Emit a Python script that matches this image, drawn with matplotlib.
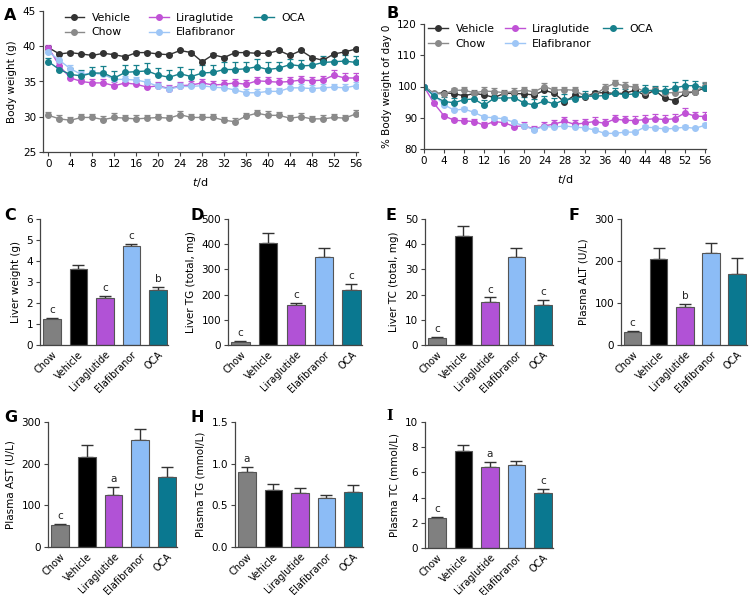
import numpy as np
import matplotlib
matplotlib.use("Agg")
import matplotlib.pyplot as plt
from matplotlib.lines import Line2D

plt.rcParams["font.family"] = ["DejaVu Sans"]
plt.rcParams["font.size"] = 7.5

W, H = 752, 595

days = [0, 2, 4, 6, 8, 10, 12, 14, 16, 18, 20, 22, 24, 26, 28,
        30, 32, 34, 36, 38, 40, 42, 44, 46, 48, 50, 52, 54, 56]
series = ["Vehicle", "Chow", "Liraglutide", "Elafibranor", "OCA"]

# panel A: body weight (g)
bw_vehicle = [39.8, 38.9, 39.1, 38.9, 38.7, 39.0, 38.8, 38.5, 39.1, 39.1, 38.9, 38.8, 39.4, 39.1, 37.8,
              38.8, 38.4, 39.1, 39.1, 39.0, 39.0, 39.4, 38.7, 39.4, 38.4, 38.0, 38.9, 39.2, 39.6]
bw_chow = [30.2, 29.7, 29.5, 29.9, 29.9, 29.6, 29.9, 29.8, 29.7, 29.8, 29.9, 29.8, 30.3, 29.9, 29.9,
           29.9, 29.5, 29.3, 30.1, 30.5, 30.2, 30.2, 29.8, 30.0, 29.7, 29.7, 29.9, 29.8, 30.4]
bw_lira = [39.8, 37.2, 35.5, 35.0, 34.8, 34.8, 34.4, 34.8, 34.6, 34.2, 34.4, 34.0, 34.4, 34.5, 34.8,
           34.5, 34.6, 34.8, 34.6, 35.1, 35.0, 34.9, 35.0, 35.2, 35.1, 35.2, 35.9, 35.5, 35.5]
bw_elaf = [39.2, 38.0, 36.8, 36.0, 36.2, 36.0, 35.3, 35.3, 35.2, 34.9, 34.3, 33.9, 34.3, 34.3, 34.4,
           34.2, 34.1, 33.8, 33.4, 33.4, 33.6, 33.6, 34.1, 34.1, 34.0, 34.1, 34.2, 34.1, 34.4]
bw_oca = [37.8, 36.7, 36.0, 35.8, 36.2, 36.2, 35.5, 36.3, 36.4, 36.5, 35.9, 35.6, 36.1, 35.7, 36.2,
          36.3, 36.7, 36.7, 36.8, 37.1, 36.7, 36.9, 37.4, 37.2, 37.3, 37.7, 37.8, 37.9, 37.7]

bw_err_vehicle = [0.2, 0.2, 0.2, 0.2, 0.2, 0.2, 0.2, 0.2, 0.2, 0.2, 0.2, 0.2, 0.2, 0.2, 0.3,
                  0.2, 0.2, 0.2, 0.2, 0.2, 0.2, 0.2, 0.2, 0.2, 0.2, 0.3, 0.2, 0.2, 0.2]
bw_err_chow = [0.5, 0.5, 0.4, 0.5, 0.5, 0.5, 0.6, 0.5, 0.5, 0.5, 0.5, 0.5, 0.5, 0.5, 0.5,
               0.5, 0.5, 0.5, 0.5, 0.5, 0.6, 0.5, 0.5, 0.5, 0.4, 0.5, 0.5, 0.5, 0.5]
bw_err_lira = [0.4, 0.4, 0.4, 0.4, 0.5, 0.5, 0.5, 0.5, 0.5, 0.5, 0.5, 0.5, 0.5, 0.5, 0.5,
               0.6, 0.6, 0.6, 0.6, 0.6, 0.6, 0.6, 0.6, 0.6, 0.6, 0.6, 0.7, 0.7, 0.7]
bw_err_elaf = [0.6, 0.6, 0.6, 0.5, 0.5, 0.5, 0.5, 0.5, 0.5, 0.5, 0.5, 0.5, 0.5, 0.5, 0.5,
               0.5, 0.5, 0.5, 0.5, 0.5, 0.5, 0.5, 0.5, 0.5, 0.5, 0.5, 0.5, 0.5, 0.5]
bw_err_oca = [0.5, 0.6, 0.9, 0.9, 0.9, 1.0, 1.0, 1.0, 1.0, 1.1, 1.0, 1.0, 0.9, 1.1, 1.1,
              1.0, 1.0, 1.0, 1.0, 1.1, 1.0, 0.9, 0.8, 0.8, 0.9, 0.9, 0.8, 0.8, 0.9]

# panel B: % body weight of day 0
pct_vehicle = [100, 97.7, 98.0, 97.7, 97.0, 97.8, 97.3, 96.5, 97.8, 97.8, 97.6, 97.3, 98.8, 97.8, 95.0,
               97.2, 96.5, 98.0, 98.0, 97.8, 97.8, 98.8, 97.2, 98.8, 96.2, 95.5, 97.8, 98.3, 99.6]
pct_chow = [100, 97.8, 97.6, 98.8, 98.8, 98.0, 98.5, 98.4, 98.0, 98.4, 98.8, 98.3, 100.0, 98.8, 99.0,
            98.8, 97.0, 97.2, 99.6, 101.0, 100.2, 99.8, 98.4, 99.0, 98.0, 98.0, 98.3, 98.3, 100.2]
pct_lira = [100, 94.6, 90.6, 89.2, 89.0, 88.8, 87.6, 88.8, 88.4, 87.2, 87.4, 86.4, 87.4, 88.0, 88.9,
            87.9, 88.3, 88.8, 88.2, 89.6, 89.2, 89.1, 89.4, 89.7, 89.4, 89.7, 91.6, 90.5, 90.4]
pct_elaf = [100, 97.2, 94.2, 92.4, 92.8, 91.7, 90.2, 90.0, 89.6, 88.5, 87.3, 86.2, 87.2, 87.0, 87.4,
            87.0, 86.8, 86.1, 85.0, 85.0, 85.4, 85.4, 87.0, 86.8, 86.4, 86.6, 87.0, 86.6, 87.6]
pct_oca = [100, 96.9, 95.2, 94.8, 95.8, 96.0, 94.0, 96.3, 96.3, 96.4, 94.7, 94.1, 95.4, 94.4, 95.8,
           96.1, 96.9, 96.9, 97.1, 97.8, 97.4, 97.6, 98.8, 98.6, 98.6, 99.6, 100.2, 100.3, 99.4]

pct_err_vehicle = [0, 0.4, 0.4, 0.4, 0.5, 0.4, 0.5, 0.5, 0.5, 0.5, 0.5, 0.5, 0.6, 0.5, 0.7,
                   0.5, 0.5, 0.5, 0.5, 0.5, 0.5, 0.5, 0.5, 0.5, 0.5, 0.6, 0.5, 0.5, 0.5]
pct_err_chow = [0, 0.6, 0.8, 0.8, 0.9, 0.8, 1.5, 1.0, 0.9, 1.0, 1.0, 1.0, 1.2, 0.9, 1.0,
                1.0, 0.9, 1.0, 1.1, 1.2, 1.1, 1.0, 1.0, 1.0, 1.0, 1.0, 1.0, 1.0, 1.2]
pct_err_lira = [0, 0.6, 0.6, 0.8, 0.9, 0.9, 0.9, 1.0, 1.0, 1.0, 1.1, 1.1, 1.1, 1.2, 1.3,
                1.3, 1.3, 1.3, 1.3, 1.4, 1.4, 1.4, 1.4, 1.4, 1.4, 1.4, 1.5, 1.5, 1.4]
pct_err_elaf = [0, 0.5, 0.6, 0.6, 0.6, 0.6, 0.6, 0.6, 0.6, 0.6, 0.6, 0.6, 0.6, 0.6, 0.6,
                0.6, 0.6, 0.6, 0.6, 0.6, 0.6, 0.6, 0.6, 0.6, 0.6, 0.6, 0.6, 0.6, 0.6]
pct_err_oca = [0, 0.8, 1.4, 1.5, 1.6, 1.7, 1.7, 1.7, 1.8, 1.8, 1.8, 1.8, 1.7, 1.9, 1.9,
               1.8, 1.6, 1.6, 1.6, 1.8, 1.7, 1.6, 1.6, 1.5, 1.6, 1.8, 1.8, 1.6, 1.6]

# bar panels
groups = ["Chow", "Vehicle", "Liraglutide", "Elafibranor", "OCA"]
liver_weight = [1.25, 3.62, 2.22, 4.70, 2.62]
liver_weight_err = [0.05, 0.20, 0.12, 0.12, 0.15]
liver_weight_sig = ["c", "", "c", "c", "b"]
liver_tg = [10, 403, 158, 348, 220]
liver_tg_err = [6, 40, 10, 35, 22]
liver_tg_sig = ["c", "", "c", "", "c"]
liver_tc = [2.8, 43.2, 17.1, 34.8, 16.0]
liver_tc_err = [0.5, 4.0, 1.8, 3.5, 1.8]
liver_tc_sig = ["c", "", "c", "", "c"]
plasma_alt = [31, 204, 91, 218, 170]
plasma_alt_err = [2, 27, 7, 25, 38]
plasma_alt_sig = ["c", "", "b", "", ""]
plasma_ast = [52, 215, 126, 258, 168]
plasma_ast_err = [4, 30, 18, 24, 23]
plasma_ast_sig = ["c", "", "a", "", ""]
plasma_tg = [0.90, 0.69, 0.65, 0.59, 0.66]
plasma_tg_err = [0.06, 0.07, 0.06, 0.04, 0.08]
plasma_tg_sig = ["a", "", "", "", ""]
plasma_tc = [2.40, 7.70, 6.42, 6.60, 4.35]
plasma_tc_err = [0.10, 0.50, 0.40, 0.30, 0.35]
plasma_tc_sig = ["c", "", "a", "", "c"]

line_colors = {"Vehicle": "#333333", "Chow": "#8a8a8a", "Liraglutide": "#c052d6",
               "Elafibranor": "#9ec6f6", "OCA": "#17808c"}
bar_colors = ["#808080", "#000000", "#b152d6", "#8cbcf6", "#0a7890"]


def px_axes(fig, left, top, right, bottom):
    return fig.add_axes([left / W, 1 - bottom / H, (right - left) / W, (bottom - top) / H])


def style(ax):
    for s in ["top", "right"]:
        ax.spines[s].set_visible(False)
    for s in ["left", "bottom"]:
        ax.spines[s].set_color("#444444")
        ax.spines[s].set_linewidth(0.9)
    ax.tick_params(direction="out", length=3, width=0.8, color="#444444", labelsize=7.5, pad=2)


def line_panel(ax, data, errs, anchor, colspacing):
    for name in series:
        c = line_colors[name]
        ax.errorbar(days, data[name], yerr=[np.zeros(len(days)), errs[name]], color=c,
                    marker="o", markersize=4, lw=1, elinewidth=0.9, capsize=2.5,
                    capthick=0.9)
    style(ax)
    ax.set_xticks(range(0, 57, 4))
    ax.set_xlabel(r"$\mathit{t}$/d", fontsize=8, labelpad=5)
    handles = [Line2D([], [], color=line_colors[n], marker="o", markersize=4, lw=1)
               for n in series]
    ax.legend(handles, series, loc="upper left", bbox_to_anchor=anchor, ncol=3,
              frameon=False, fontsize=7.8, handlelength=1.8, handletextpad=0.7,
              columnspacing=colspacing, labelspacing=0.45, borderaxespad=0)


def bar_panel(ax, vals, errs, sig, ylabel, ymax, ticks, ticklabels=None):
    x = np.arange(len(groups))
    ax.bar(x, vals, width=0.66, color=bar_colors, edgecolor="#555555", linewidth=0.8, zorder=2)
    ax.errorbar(x, vals, yerr=[np.zeros(len(x)), errs], fmt="none", ecolor="#333333",
                elinewidth=1, capsize=4, capthick=1, zorder=1)
    for xi, v, e, s in zip(x, vals, errs, sig):
        if s:
            ax.annotate(s, (xi, v + e), xytext=(0, 2), textcoords="offset points",
                        ha="center", va="bottom", fontsize=7.5, color="#222222")
    style(ax)
    ax.set_xlim(-0.45, 4.38)
    ax.set_ylim(0, ymax)
    ax.set_yticks(ticks)
    if ticklabels:
        ax.set_yticklabels(ticklabels)
    ax.set_xticks(x)
    ax.set_xticklabels(groups, rotation=45, ha="right", rotation_mode="anchor", fontsize=7)
    ax.tick_params(axis="x", length=0, pad=3)
    ax.set_ylabel(ylabel, fontsize=7.5, labelpad=4)


def main():
    fig = plt.figure(figsize=(W / 100, H / 100), dpi=100)

    ax_a = px_axes(fig, 43, 11, 358, 152)
    line_panel(ax_a,
               {"Vehicle": bw_vehicle, "Chow": bw_chow, "Liraglutide": bw_lira,
                "Elafibranor": bw_elaf, "OCA": bw_oca},
               {"Vehicle": bw_err_vehicle, "Chow": bw_err_chow, "Liraglutide": bw_err_lira,
                "Elafibranor": bw_err_elaf, "OCA": bw_err_oca},
               (0.055, 1.02), 1.7)
    ax_a.set_xlim(-1, 56.4)
    ax_a.set_ylim(25, 45)
    ax_a.set_yticks([25, 30, 35, 40, 45])
    ax_a.set_ylabel("Body weight (g)", fontsize=7.5)

    ax_b = px_axes(fig, 424, 24, 706, 149)
    line_panel(ax_b,
               {"Vehicle": pct_vehicle, "Chow": pct_chow, "Liraglutide": pct_lira,
                "Elafibranor": pct_elaf, "OCA": pct_oca},
               {"Vehicle": pct_err_vehicle, "Chow": pct_err_chow, "Liraglutide": pct_err_lira,
                "Elafibranor": pct_err_elaf, "OCA": pct_err_oca},
               (0.0, 1.035), 1.0)
    ax_b.set_xlim(0, 56.2)
    ax_b.set_ylim(80, 120)
    ax_b.set_yticks([80, 90, 100, 110, 120])
    ax_b.set_ylabel("% Body weight of day 0", fontsize=7.5)

    bar_panel(px_axes(fig, 40, 219, 168, 345), liver_weight, liver_weight_err, liver_weight_sig,
              "Liver weight (g)", 6, range(0, 7))
    bar_panel(px_axes(fig, 228, 219, 362, 345), liver_tg, liver_tg_err, liver_tg_sig,
              "Liver TG (total, mg)", 500, range(0, 501, 100))
    bar_panel(px_axes(fig, 425, 219, 553, 345), liver_tc, liver_tc_err, liver_tc_sig,
              "Liver TC (total, mg)", 50, range(0, 51, 10))
    bar_panel(px_axes(fig, 621, 219, 747, 345), plasma_alt, plasma_alt_err, plasma_alt_sig,
              "Plasma ALT (U/L)", 300, range(0, 301, 100))
    bar_panel(px_axes(fig, 48, 422, 177, 547), plasma_ast, plasma_ast_err, plasma_ast_sig,
              "Plasma AST (U/L)", 300, range(0, 301, 100))
    bar_panel(px_axes(fig, 235, 422, 363, 547), plasma_tg, plasma_tg_err, plasma_tg_sig,
              "Plasma TG (mmol/L)", 1.5, [0, 0.5, 1.0, 1.5], ["0.0", "0.5", "1.0", "1.5"])
    bar_panel(px_axes(fig, 425, 422, 553, 548), plasma_tc, plasma_tc_err, plasma_tc_sig,
              "Plasma TC (mmol/L)", 10, range(0, 11, 2))

    letters = [("A", 4, 16), ("B", 386, 14), ("C", 4, 216), ("D", 190, 216), ("E", 385, 216),
               ("F", 568, 216), ("G", 4, 417), ("H", 190, 417)]
    for s, x, y in letters:
        fig.text(x / W, 1 - y / H, s, fontsize=11.5, fontweight="bold", va="center")
    fig.text(386 / W, 1 - 416 / H, "I", fontsize=12.5, fontweight="bold", va="center",
             family="Liberation Serif")

    fig.savefig("out.png", dpi=100)


if __name__ == "__main__":
    main()
